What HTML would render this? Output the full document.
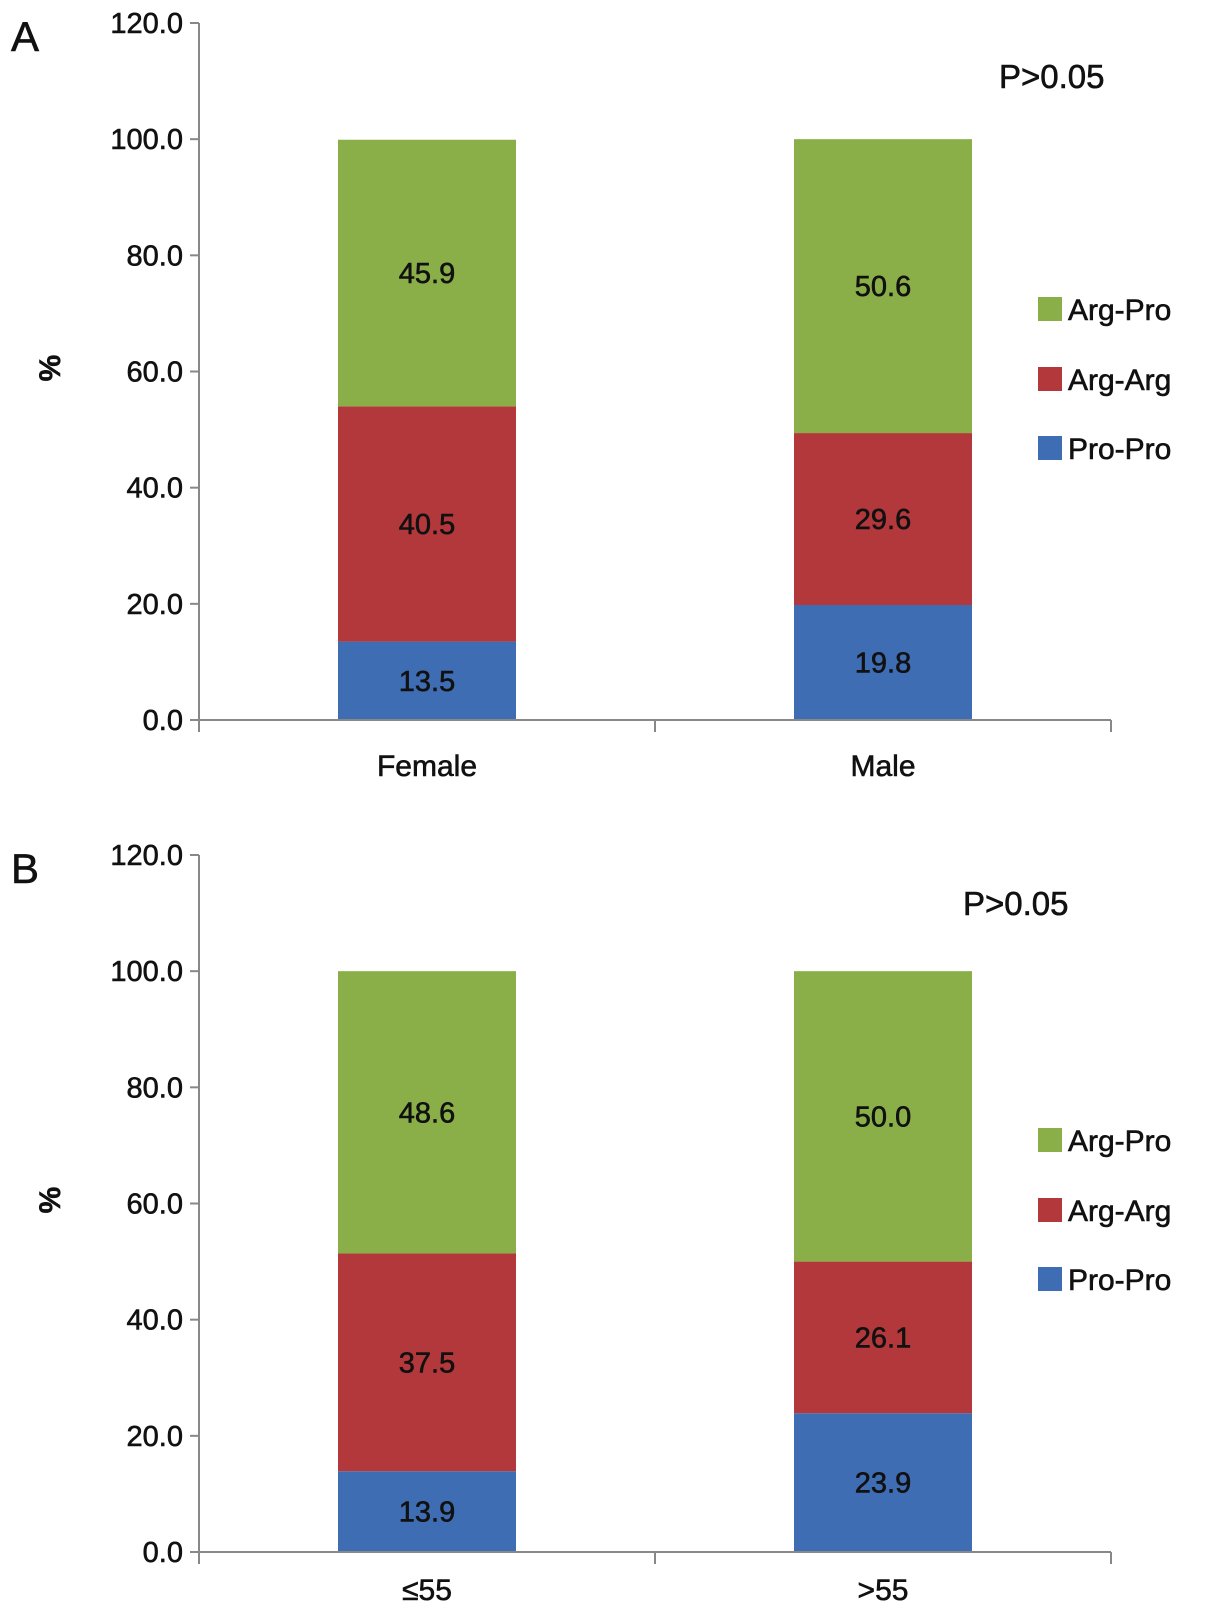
<!DOCTYPE html>
<html><head><meta charset="utf-8"><style>
html,body{margin:0;padding:0;background:#fff;}
svg{display:block;font-family:"Liberation Sans",sans-serif;}
svg text{stroke:#111;stroke-width:0.6px;}
</style></head><body>
<svg id="chart" width="1205" height="1609" viewBox="0 0 1205 1609"></svg>
<script>
const categoriesA = ["Female","Male"];
const categoriesB = ["\u226455","&gt;55"];
const seriesNames = ["Pro-Pro","Arg-Arg","Arg-Pro"];
const proProA = [13.5,19.8];
const argArgA = [40.5,29.6];
const argProA = [45.9,50.6];
const proProB = [13.9,23.9];
const argArgB = [37.5,26.1];
const argProB = [48.6,50.0];
const yTicks = [0,20,40,60,80,100,120];
const yTickLabels = ["0.0","20.0","40.0","60.0","80.0","100.0","120.0"];
const colors = ["#3F6DB3","#B3383B","#8BAF48"];

const svg = document.getElementById('chart');
const NS = "http://www.w3.org/2000/svg";
function mk(tag, attrs, parent, text){
  const e = document.createElementNS(NS, tag);
  for (const k in attrs) e.setAttribute(k, attrs[k]);
  if (text !== undefined) e.textContent = text;
  parent.appendChild(e);
  return e;
}

function panel(id, letter, top, cats, series, labOff){
  const g = mk('g', {}, svg);
  
  
  const x0 = 199, x1 = 1111, yBot = top + 697, yTop = top;
  const y = v => yBot - (v/120)*(yBot-yTop);
  const catW = (x1-x0)/cats.length;
  const cx = i => x0 + catW*(i+0.5);
  const barW = 178;

  const lt = mk('text', {x:11, y:top+28, 'font-size':42, fill:'#111'}, g, letter);
  
  

  for (let i=0;i<cats.length;i++){
    let acc = 0;
    for (let s=0;s<series.length;s++){
      const v = series[s][i];
      const r = mk('rect', {x:cx(i)-barW/2, y:y(acc+v), width:barW, height:y(acc)-y(acc+v), fill:colors[s]}, g);
      
      
      const t = mk('text', {x:cx(i), y:y(acc+v/2)+10, 'text-anchor':'middle', 'font-size':29, fill:'#111'}, g, v.toFixed(1));
      
      
      acc += v;
    }
  }

  const ya = mk('line', {x1:x0, y1:yTop, x2:x0, y2:yBot, stroke:'#888', 'stroke-width':2}, g);
  
  
  const xa = mk('line', {x1:x0, y1:yBot, x2:x1, y2:yBot, stroke:'#888', 'stroke-width':2}, g);
  
  
  for (let k=0;k<yTicks.length;k++){
    const yy = y(yTicks[k]);
    mk('line', {x1:x0-9, y1:yy, x2:x0, y2:yy, stroke:'#888', 'stroke-width':2}, g);
    const t = mk('text', {x:x0-16, y:yy+10, 'text-anchor':'end', 'font-size':29, fill:'#111'}, g, yTickLabels[k]);
    
    
  }
  for (let i=0;i<=cats.length;i++){
    const xx = x0 + catW*i;
    mk('line', {x1:xx, y1:yBot, x2:xx, y2:yBot+12, stroke:'#888', 'stroke-width':2}, g);
  }
  for (let i=0;i<cats.length;i++){
    const t = mk('text', {x:cx(i), y:yBot+labOff, 'text-anchor':'middle', 'font-size':30, fill:'#111'}, g);
    t.innerHTML = cats[i];
    
    
  }
  const yt = mk('text', {x:0, y:0, 'text-anchor':'middle', 'font-size':30, 'font-weight':'bold', fill:'#111', transform:`translate(60,${top+345}) rotate(-90)`}, g, '%');
  
  
  return {g, y, top};
}

const pA = panel('a','A',23,categoriesA,[proProA,argArgA,argProA],56);
const pB = panel('b','B',855,categoriesB,[proProB,argArgB,argProB],48);

function extras(p, px, py, legYs){
  const t = mk('text', {x:px, y:py, 'font-size':33, fill:'#111'}, p.g, 'P>0.05');
  
  
  const names = ["Arg-Pro","Arg-Arg","Pro-Pro"];
  const cols = [colors[2],colors[1],colors[0]];
  for (let k=0;k<3;k++){
    const lg = mk('g', {}, p.g);
    
    
    mk('rect', {x:1038, y:legYs[k]-12, width:24, height:24, fill:cols[k]}, lg);
    mk('text', {x:1068, y:legYs[k]+11, 'font-size':30, fill:'#111'}, lg, names[k]);
  }
}
extras(pA, 999, 88, [309,379,448]);
extras(pB, 963, 915, [1140,1210,1279]);
</script>
</body></html>
